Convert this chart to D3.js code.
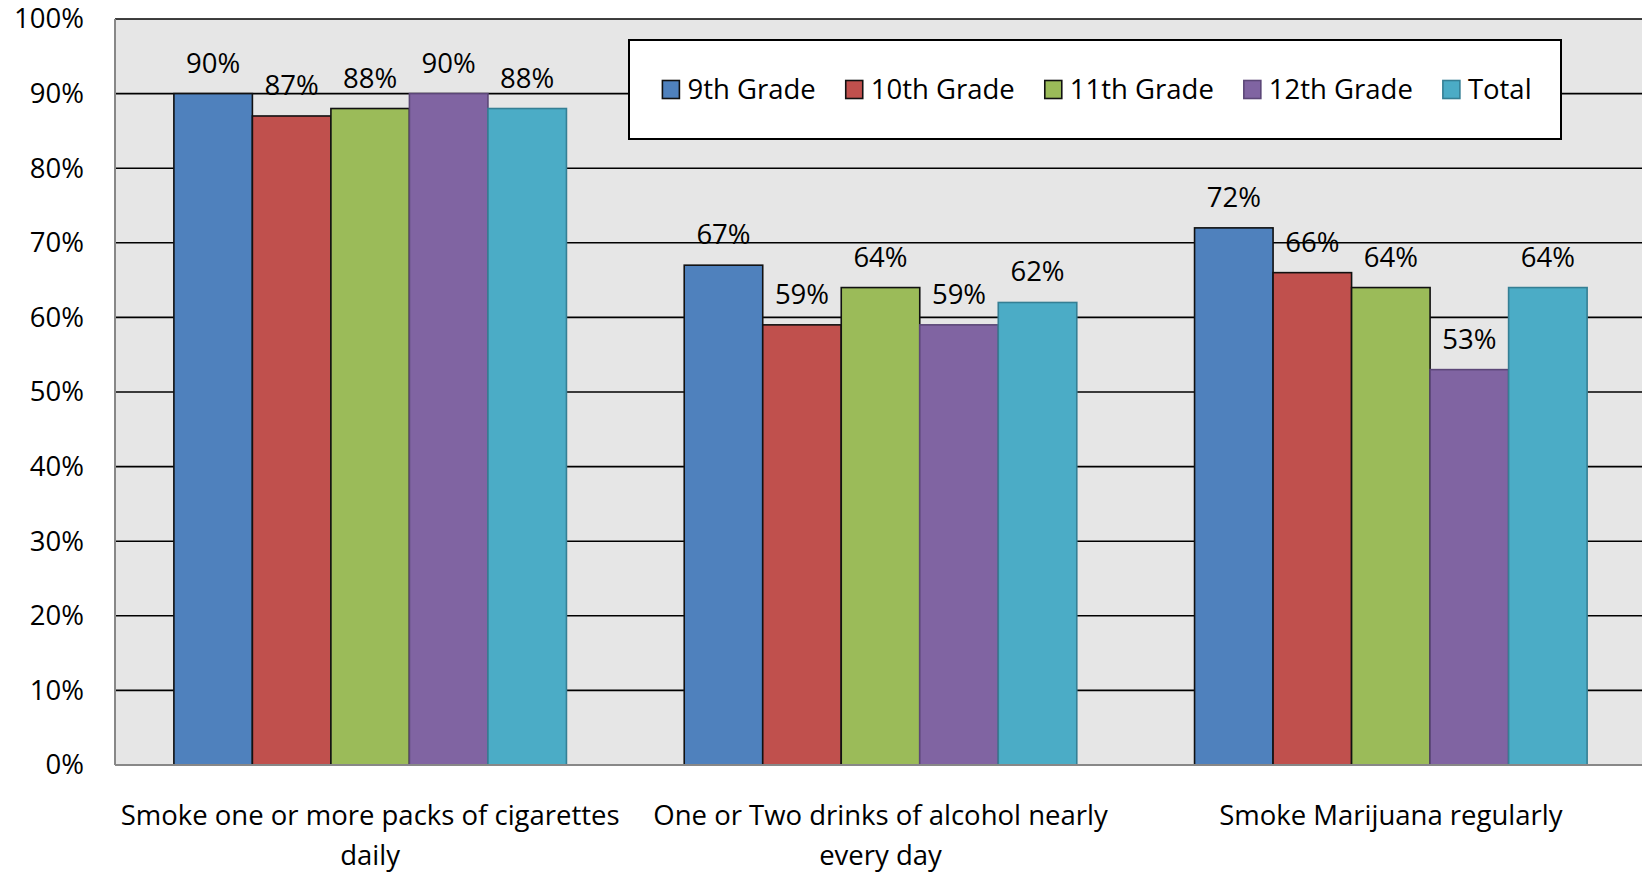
<!DOCTYPE html>
<html>
<head>
<meta charset="utf-8">
<script src="https://cdn.jsdelivr.net/npm/d3@7"></script>
<style>
  body { margin: 0; background: #fff; }
  text { font-family: "Open Sans", sans-serif; fill: #000; }
</style>
</head>
<body>
<div id="chart"></div>
<script>
// categories and series
const categories = [
    "Smoke one or more packs of cigarettes daily",
    "One or Two drinks of alcohol nearly every day",
    "Smoke Marijuana regularly"
];
const seriesNames = ["9th Grade", "10th Grade", "11th Grade", "12th Grade", "Total"];
const grade9 = [0.90, 0.67, 0.72];
const grade10 = [0.87, 0.59, 0.66];
const grade11 = [0.88, 0.64, 0.64];
const grade12 = [0.90, 0.59, 0.53];
const total = [0.88, 0.62, 0.64];
const yTicks = [0, 0.1, 0.2, 0.3, 0.4, 0.5, 0.6, 0.7, 0.8, 0.9, 1.0];

const fills = ["#4F81BD", "#C0504D", "#9BBB59", "#8064A2", "#4BACC6"];
const strokes = ["#111", "#111", "#111", "#5c4778", "#357f94"];

(function bar_chart() {
    const width = 1642,
        height = 872,
        fontSize = 27.5,
        margin = ({ top: 19, right: 0, bottom: 107, left: 115 });

    const svg = d3.select("#chart")
        .append("svg")
        .attr("width", width)
        .attr("height", height);

    const values = [grade9, grade10, grade11, grade12, total];
    const data = categories.map((c, i) => ({
        cat: c,
        vals: seriesNames.map((s, j) => ({ series: s, idx: j, value: values[j][i] }))
    }));

    // the plot area runs a little past the right edge of the picture
    let x0 = d3.scaleBand()
        .domain(categories)
        .range([margin.left, width + 4]);

    let x1 = d3.scaleBand()
        .domain(seriesNames)
        .range([0, x0.bandwidth()])
        .paddingOuter(0.75);

    let y = d3.scaleLinear()
        .domain([0, 1])
        .range([height - margin.bottom, margin.top]);

    // plot background
    svg.append("rect")
        .attr("x", margin.left)
        .attr("y", margin.top)
        .attr("width", width - margin.right - margin.left)
        .attr("height", y(0) - margin.top)
        .attr("fill", "#e6e6e6");

    // gridlines
    svg.append("g")
        .selectAll("line")
        .data(yTicks.filter(d => d > 0))
        .join("line")
        .attr("x1", margin.left)
        .attr("x2", width - margin.right)
        .attr("y1", d => y(d))
        .attr("y2", d => y(d))
        .attr("stroke", "#000")
        .attr("stroke-width", 1.6);

    // y axis
    const yAxis = svg.append("g")
        .attr("transform", `translate(${margin.left},0)`)
        .call(d3.axisLeft(y)
            .tickValues(yTicks)
            .tickFormat(d3.format(".0%"))
            .tickSize(0)
            .tickPadding(31));
    yAxis.select(".domain").remove();
    yAxis.selectAll("text")
        .attr("font-size", fontSize)
        .attr("font-family", "Open Sans, sans-serif")
        .attr("fill", "#000");

    // bars
    const groups = svg.append("g")
        .selectAll("g")
        .data(data)
        .join("g")
        .attr("transform", d => `translate(${x0(d.cat)},0)`);

    groups.selectAll("rect")
        .data(d => d.vals)
        .join("rect")
        .attr("x", d => x1(d.series))
        .attr("y", d => y(d.value))
        .attr("width", x1.bandwidth())
        .attr("height", d => y(0) - y(d.value))
        .attr("fill", d => fills[d.idx])
        .attr("stroke", d => strokes[d.idx])
        .attr("stroke-width", 1.6);

    groups.selectAll("text")
        .data(d => d.vals)
        .join("text")
        .attr("x", d => x1(d.series) + x1.bandwidth() / 2)
        .attr("y", d => y(d.value) - 21)
        .attr("text-anchor", "middle")
        .attr("font-size", fontSize)
        .text(d => d3.format(".0%")(d.value));

    // axis lines
    svg.append("line")
        .attr("x1", margin.left).attr("x2", margin.left)
        .attr("y1", margin.top).attr("y2", y(0))
        .attr("stroke", "#888").attr("stroke-width", 2);
    svg.append("line")
        .attr("x1", margin.left).attr("x2", width - margin.right)
        .attr("y1", y(0)).attr("y2", y(0))
        .attr("stroke", "#888").attr("stroke-width", 2);

    // category labels, wrapped to the band width
    const catLabels = svg.append("g")
        .selectAll("text")
        .data(categories)
        .join("text")
        .attr("text-anchor", "middle")
        .attr("font-size", fontSize)
        .attr("x", d => x0(d) + x0.bandwidth() / 2)
        .attr("y", y(0) + 60);

    catLabels.each(function(d) {
        const t = d3.select(this);
        const words = d.split(" ");
        let line = [];
        let tspan = t.append("tspan").attr("x", t.attr("x")).attr("dy", 0);
        for (let w of words) {
            line.push(w);
            tspan.text(line.join(" "));
            if (tspan.node().getComputedTextLength() > x0.bandwidth() - 6 && line.length > 1) {
                line.pop();
                tspan.text(line.join(" "));
                line = [w];
                tspan = t.append("tspan").attr("x", t.attr("x")).attr("dy", 40).text(w);
            }
        }
    });

    // legend
    const legend = svg.append("g");
    const box = { x: 629, y: 40, w: 932, h: 99 };
    const itemGap = 30;
    legend.append("rect")
        .attr("x", box.x).attr("y", box.y)
        .attr("width", box.w).attr("height", box.h)
        .attr("fill", "#fff")
        .attr("stroke", "#000")
        .attr("stroke-width", 2);

    const items = legend.append("g");
    let lx = 0;
    seriesNames.forEach((s, i) => {
        const it = items.append("g").attr("transform", `translate(${lx},0)`);
        it.append("rect")
            .attr("x", 0).attr("y", -9)
            .attr("width", 17).attr("height", 18)
            .attr("fill", fills[i])
            .attr("stroke", strokes[i])
            .attr("stroke-width", 1.6);
        const tx = it.append("text")
            .attr("x", 25)
            .attr("y", 9.5)
            .attr("font-size", fontSize)
            .text(s);
        lx += 25 + tx.node().getComputedTextLength() + itemGap;
    });
    const itemsW = lx - itemGap;
    items.attr("transform", `translate(${box.x + (box.w - itemsW) / 2 + 2},${box.y + box.h / 2})`);
})();
</script>
</body>
</html>
